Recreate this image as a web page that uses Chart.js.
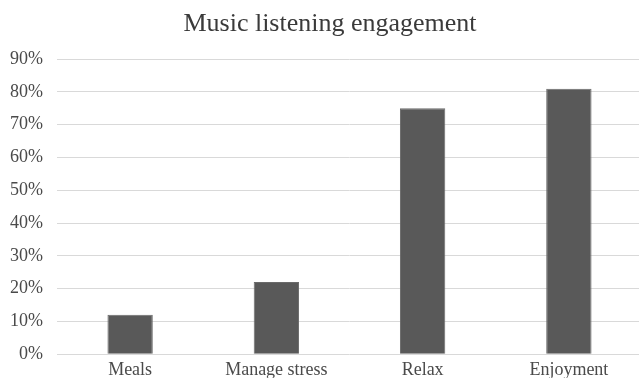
<!DOCTYPE html>
<html>
<head>
<meta charset="utf-8">
<script src="https://cdn.jsdelivr.net/npm/chart.js@4.4.1/dist/chart.umd.min.js"></script>
<style>
    html, body { margin: 0; padding: 0; background: #fff; overflow: hidden; }
    #wrap { width: 642px; height: 379px; }
</style>
</head>
<body>
<div id="wrap"><canvas id="engagementChart"></canvas></div>
<script>
// Chart data
const categories = ['Meals', 'Manage stress', 'Relax', 'Enjoyment'];
const engagement = [12, 22, 75, 81];
const yTicks = [0, 10, 20, 30, 40, 50, 60, 70, 80, 90];

const serif = "'Liberation Serif', 'Times New Roman', serif";

// nudge the title so it is centred a little right of the canvas middle
const titleShift = {
    id: 'titleShift',
    afterLayout(chart) {
        if (chart.titleBlock) chart.titleBlock.left = 18;
    }
};

new Chart(document.getElementById('engagementChart'), {
    type: 'bar',
    data: {
        labels: categories,
        datasets: [{
            label: 'Engagement',
            data: engagement,
            backgroundColor: '#595959',
            borderColor: '#6a6a6a',
            borderWidth: 1,
            barPercentage: 0.31,
            categoryPercentage: 1
        }]
    },
    options: {
        responsive: true,
        maintainAspectRatio: false,
        animation: false,
        layout: { padding: { left: 0, right: 0, top: 0, bottom: -8 } },
        plugins: {
            legend: { display: false },
            tooltip: { enabled: false },
            title: {
                display: true,
                text: 'Music listening engagement',
                color: '#3a3a3a',
                font: { family: serif, size: 26, weight: 'normal' },
                padding: { top: 9, bottom: 19 }
            }
        },
        scales: {
            x: {
                grid: { display: false },
                border: { display: false },
                ticks: {
                    color: '#4a4a4a',
                    font: { family: serif, size: 18 },
                    padding: -3,
                    maxRotation: 0
                }
            },
            y: {
                min: yTicks[0],
                max: yTicks[yTicks.length - 1],
                afterFit: scale => { scale.width = 57; },
                afterBuildTicks: scale => { scale.ticks = yTicks.map(v => ({ value: v })); },
                grid: { color: '#d9d9d9', lineWidth: 1, drawTicks: false },
                border: { display: false },
                ticks: {
                    color: '#4a4a4a',
                    font: { family: serif, size: 18 },
                    padding: 14,
                    callback: v => v + '%'
                }
            }
        }
    },
    plugins: [titleShift]
});
</script>
</body>
</html>
